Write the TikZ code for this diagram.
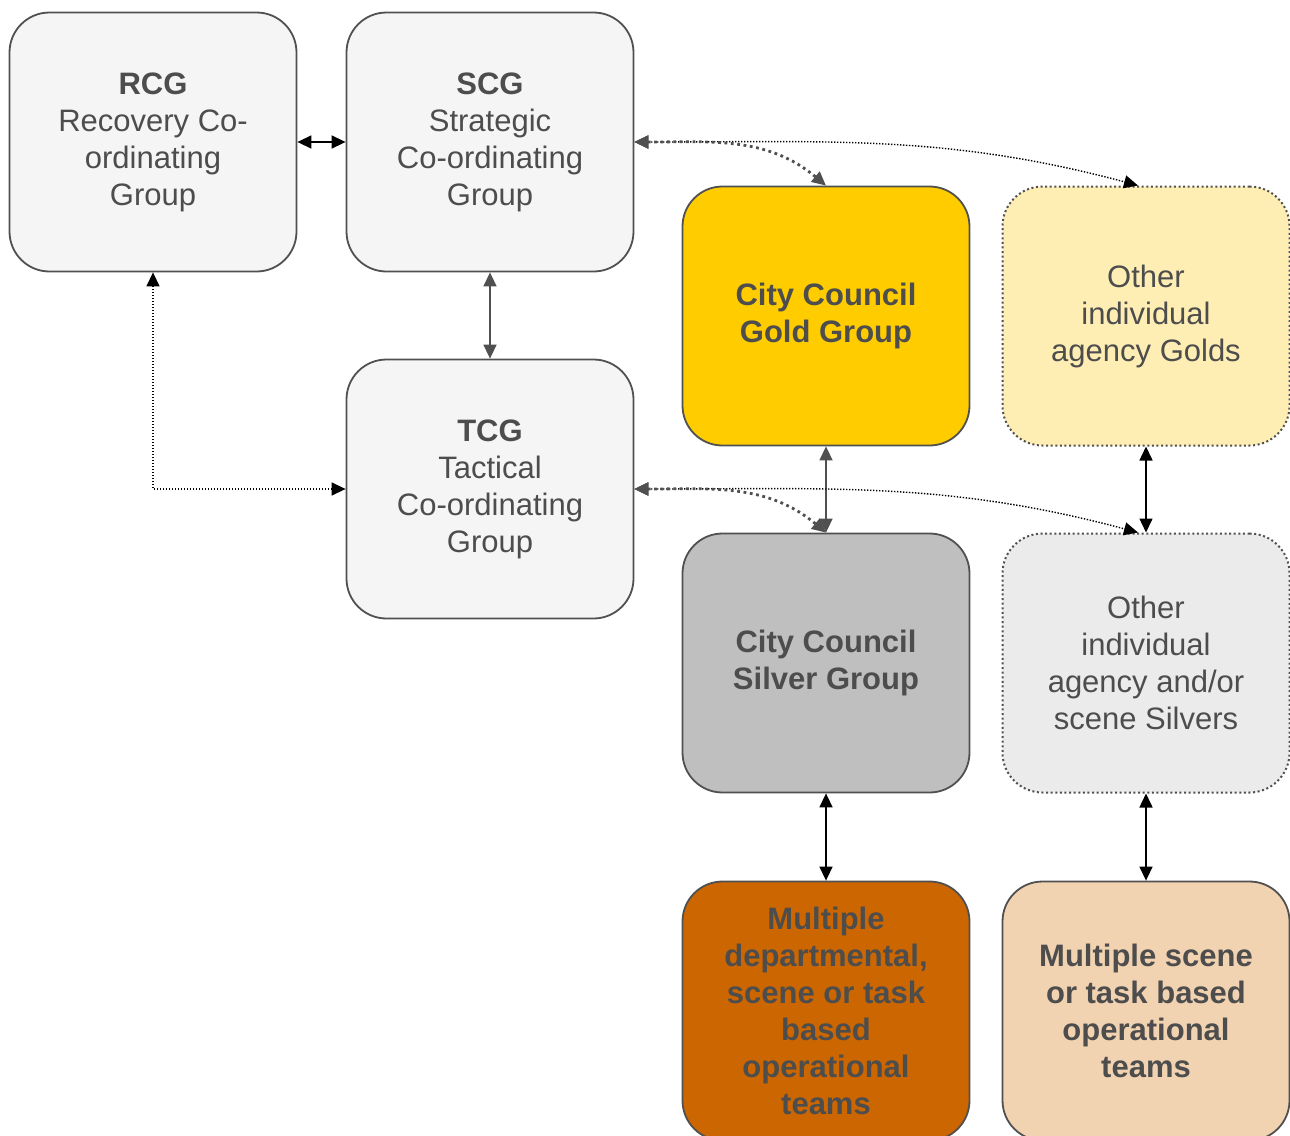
\documentclass[tikz,border=0pt]{standalone}
\usepackage{fontspec}
\setmainfont{Liberation Sans}
\usetikzlibrary{arrows.meta}
\definecolor{edgegrey}{HTML}{505050}
\definecolor{txtgrey}{HTML}{4D4D4D}
\definecolor{boxgrey}{HTML}{F5F5F5}
\definecolor{goldfill}{HTML}{FFCC00}
\definecolor{palegold}{HTML}{FFEEB3}
\definecolor{silverfill}{HTML}{BFBFBF}
\definecolor{palesilver}{HTML}{EBEBEB}
\definecolor{orangefill}{HTML}{CC6600}
\definecolor{paleorange}{HTML}{F2D3B1}
\begin{document}
\begin{tikzpicture}[x=1pt,y=1pt,>={Triangle[length=14pt,width=13pt]}]
\tikzstyle{grp}=[draw=edgegrey, line width=1.8pt, rounded corners=40pt, minimum width=287pt, minimum height=259pt, align=center, text=txtgrey, inner sep=0pt, font=\fontsize{31}{37}\selectfont]
\tikzstyle{dotgrp}=[grp, line width=2pt, dash pattern=on 2pt off 2.6pt]
\tikzstyle{solidlink}=[<->, line width=1.5pt]
\tikzstyle{finedot}=[<->, line width=1.4pt, dash pattern=on 1.4pt off 1.6pt]
\tikzstyle{heavydot}=[<->, edgegrey, line width=2.8pt, dash pattern=on 2.8pt off 3.6pt]
\useasboundingbox (0,0) rectangle (1290,-1135);
\node[grp, fill=boxgrey] (rcg) at (153,-142) {\textbf{RCG}\\Recovery Co-\\ordinating\\Group};
\node[grp, fill=boxgrey, minimum height=259pt] (scg) at (490,-142) {\textbf{SCG}\\Strategic\\Co-ordinating\\Group};
\node[grp, fill=boxgrey] (tcg) at (490,-489) {\textbf{TCG}\\Tactical\\Co-ordinating\\Group};
\node[grp, fill=goldfill] (gold) at (826,-316) {\textbf{City Council}\\\textbf{Gold Group}};
\node[dotgrp, fill=palegold] (ogold) at (1146,-316) {Other\\individual\\agency Golds};
\node[grp, fill=silverfill] (silver) at (826,-663) {\textbf{City Council}\\\textbf{Silver Group}};
\node[dotgrp, fill=palesilver] (osilver) at (1146,-663) {Other\\individual\\agency and/or\\scene Silvers};
\node[grp, fill=orangefill] (deptteams) at (826,-1011) {\textbf{Multiple}\\\textbf{departmental,}\\\textbf{scene or task}\\\textbf{based}\\\textbf{operational}\\\textbf{teams}};
\node[grp, fill=paleorange] (sceneteams) at (1146,-1011) {\textbf{Multiple scene}\\\textbf{or task based}\\\textbf{operational}\\\textbf{teams}};
\draw[solidlink] (rcg.east) -- (scg.west);
\draw[solidlink, edgegrey] (scg.south) -- (tcg.north);
\draw[finedot] (rcg.south) |- (tcg.west);
\draw[finedot] (scg.east) to[out=0,in=165] ([xshift=-8pt]ogold.north);
\draw[heavydot] (scg.east) to[out=0,in=140] (gold.north);
\draw[solidlink, edgegrey] (gold.south) -- (silver.north);
\draw[solidlink] (ogold.south) -- (osilver.north);
\draw[finedot] (tcg.east) to[out=0,in=165] ([xshift=-8pt]osilver.north);
\draw[heavydot] (tcg.east) to[out=0,in=140] (silver.north);
\draw[solidlink] (silver.south) -- (deptteams.north);
\draw[solidlink] (osilver.south) -- (sceneteams.north);
\end{tikzpicture}
\end{document}
